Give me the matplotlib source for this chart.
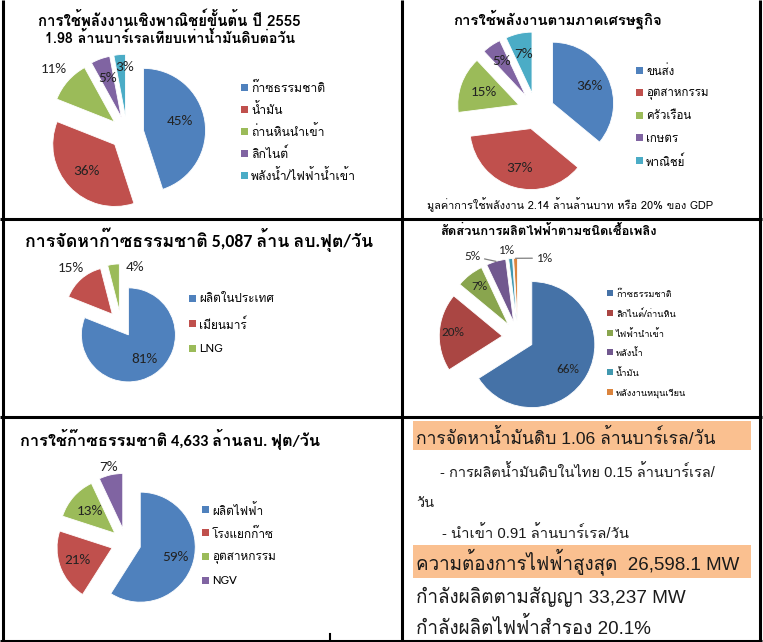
import numpy as np
import matplotlib
matplotlib.use('Agg')
import matplotlib.pyplot as plt
from matplotlib import font_manager as fm
from matplotlib.patches import Rectangle

# ---- data ----
p1_labels = ['ก๊าซธรรมชาติ', 'น้ำมัน', 'ถ่านหินนำเข้า', 'ลิกไนต์', 'พลังน้ำ/ไฟฟ้าน้ำเข้า']
p1_values = [45, 36, 11, 5, 3]

p2_labels = ['ขนส่ง', 'อุตสาหกรรม', 'ครัวเรือน', 'เกษตร', 'พาณิชย์']
p2_values = [36, 37, 15, 5, 7]

p3_labels = ['ผลิตในประเทศ', 'เมียนมาร์', 'LNG']
p3_values = [81, 15, 4]

p4_labels = ['ก๊าซธรรมชาติ', 'ลิกไนต์/ถ่านหิน', 'ไฟฟ้านำเข้า', 'พลังน้ำ', 'น้ำมัน', 'พลังงานหมุนเวียน']
p4_values = [66, 20, 7, 5, 1, 1]

p5_labels = ['ผลิตไฟฟ้า', 'โรงแยกก๊าซ', 'อุตสาหกรรม', 'NGV']
p5_values = [59, 21, 13, 7]

W, H = 763, 642

avail = set(f.name for f in fm.fontManager.ttflist)
def pick(*names):
    for n in names:
        if n in avail:
            return n
    return 'DejaVu Sans'

thai = pick('Loma', 'Noto Sans Thai', 'Sarabun', 'FreeSerif')
lat = pick('Carlito', 'Liberation Sans')
arial = pick('Liberation Sans', 'Arimo')
F_THAI = [thai, 'DejaVu Sans']
F_LAT = [lat, thai, 'DejaVu Sans']
F_ARIAL = [arial, thai, 'DejaVu Sans']

office = ['#4F81BD', '#C0504D', '#9BBB59', '#8064A2', '#4BACC6']
office_dark = ['#4572A7', '#AA4643', '#89A54E', '#71588F', '#4198AF', '#DB843D']

fig = plt.figure(figsize=(W / 100, H / 100), dpi=100)
ax = fig.add_axes([0, 0, 1, 1])


def Y(y):
    return H - y


def pie(values, colors, cx, cy, r, expl):
    # explode in matplotlib is in data units, so scale by the radius
    wedges, _ = ax.pie(values, colors=colors, center=(cx, Y(cy)), radius=r,
                       startangle=90, counterclock=False,
                       explode=[expl * r] * len(values),
                       wedgeprops=dict(edgecolor='white', linewidth=0.6))
    return wedges


def pct_labels(wedges, values, dists, nudges, fs, leaders=()):
    for i, (w, v, d, n) in enumerate(zip(wedges, values, dists, nudges)):
        mid = np.deg2rad((w.theta1 + w.theta2) / 2)
        a = mid + np.deg2rad(n)
        cx, cy = w.center
        x = cx + d * w.r * np.cos(a)
        y = cy + d * w.r * np.sin(a)
        if i in leaders:
            px = cx + w.r * np.cos(mid)
            py = cy + w.r * np.sin(mid)
            ax.annotate(f'{v}%', xy=(px, py), xytext=(x, y), ha='center', va='center',
                        fontsize=fs, family=F_LAT, color='#222222',
                        arrowprops=dict(arrowstyle='-', color='#7f7f7f', lw=0.9,
                                        shrinkA=1, shrinkB=0))
        else:
            ax.text(x, y, f'{v}%', ha='center', va='center', fontsize=fs,
                    family=F_LAT, color='#222222')


def legend(labels, colors, x, y0, step, sq, fs, gap=3):
    for i, (lab, c) in enumerate(zip(labels, colors)):
        y = Y(y0 + i * step)
        ax.add_patch(Rectangle((x, y - sq / 2), sq, sq, facecolor=c, edgecolor='none'))
        ax.text(x + sq + gap, y, lab, ha='left', va='center_baseline',
                fontsize=fs, family=F_THAI, color='black')


# ---- panel 1 ----
ax.text(169, Y(20), 'การใช้พลังงานเชิงพาณิชย์ขั้นต้น ปี 2555', ha='center', va='center',
        fontsize=10.8, fontweight='bold', family=F_THAI)
ax.text(170, Y(38), '1.98 ล้านบาร์เรลเทียบเท่าน้ำมันดิบต่อวัน', ha='center', va='center',
        fontsize=10.3, fontweight='bold', family=F_THAI)
w1 = pie(p1_values, office, 127, 133, 62, 0.27)
pct_labels(w1, p1_values, [0.6, 0.63, 1.3, 0.67, 0.8], [5, 0, 0, 0, -5], 11)
legend(p1_labels, office, 241, 87, 22, 7, 8.8)

# ---- panel 2 ----
ax.text(558, Y(19), 'การใช้พลังงานตามภาคเศรษฐกิจ', ha='center', va='center',
        fontsize=10.7, fontweight='bold', family=F_THAI)
w2 = pie(p2_values, office, 536, 111, 61, 0.30)
pct_labels(w2, p2_values, [0.67, 0.68, 0.61, 0.69, 0.66], [0] * 5, 11)
legend(p2_labels, office, 636, 70, 22.5, 7, 8.3)
ax.text(427, Y(205), 'มูลค่าการใช้พลังงาน 2.14 ล้านล้านบาท หรือ 20% ของ GDP', ha='left',
        va='center', fontsize=7.9, family=F_THAI)

# ---- panel 3 ----
ax.text(25, Y(240), 'การจัดหาก๊าซธรรมชาติ 5,087 ล้าน ลบ.ฟุต/วัน', ha='left', va='center',
        fontsize=12.8, fontweight='bold', family=F_LAT)
w3 = pie(p3_values, office, 121, 324, 47, 0.28)
pct_labels(w3, p3_values, [0.62, 1.32, 1.0], [0, 0, -27], 11)
legend(p3_labels, office, 189, 298, 25, 7, 8.5)

# ---- panel 4 ----
ax.text(440, Y(231), 'สัดส่วนการผลิตไฟฟ้าตามชนิดเชื้อเพลิง', ha='left', va='center',
        fontsize=9.4, fontweight='bold', family=F_THAI)
w4 = pie(p4_values, office_dark, 518, 337, 63, 0.25)
pct_labels(w4, p4_values, [0.70, 0.79, 0.76, 1.23, 1.14, 1.09], [-6, 0, 0, 16, 2, -25], 9.5,
           leaders=(3, 5))
legend(p4_labels, office_dark, 607, 293, 19.8, 6, 6.6)

# ---- panel 5 ----
ax.text(20, Y(440), 'การใช้ก๊าซธรรมชาติ 4,633 ล้านลบ. ฟุต/วัน', ha='left', va='center',
        fontsize=11.8, fontweight='bold', family=F_LAT)
w5 = pie(p5_values, office, 126, 543, 55, 0.27)
pct_labels(w5, p5_values, [0.66, 0.66, 0.61, 1.15], [0, 0, 0, 0], 11)
legend(p5_labels, office, 202, 509, 23.7, 7, 8.5)

# ---- panel 6: text block ----
band = '#FAC090'
ax.add_patch(Rectangle((413, Y(450)), 338, 29, facecolor=band, edgecolor='none'))
ax.add_patch(Rectangle((413, Y(578)), 338, 33, facecolor=band, edgecolor='none'))
txt = '#1a1a1a'
ax.text(416, Y(437), 'การจัดหาน้ำมันดิบ 1.06 ล้านบาร์เรล/วัน', ha='left', va='center',
        fontsize=12.6, family=F_ARIAL, color=txt)
ax.text(440, Y(472), '- การผลิตน้ำมันดิบในไทย 0.15 ล้านบาร์เรล/', ha='left', va='center',
        fontsize=10.5, family=F_ARIAL, color=txt)
ax.text(416, Y(503), 'วัน', ha='left', va='center', fontsize=10.5, family=F_ARIAL, color=txt)
ax.text(442, Y(533), '- นำเข้า 0.91 ล้านบาร์เรล/วัน', ha='left', va='center',
        fontsize=10.7, family=F_ARIAL, color=txt)
ax.text(416, Y(562), 'ความต้องการไฟฟ้าสูงสุด  26,598.1 MW', ha='left', va='center',
        fontsize=13.5, family=F_ARIAL, color=txt)
ax.text(416, Y(597), 'กำลังผลิตตามสัญญา 33,237 MW', ha='left', va='center',
        fontsize=13.6, family=F_ARIAL, color=txt)
ax.text(416, Y(627), 'กำลังผลิตไฟฟ้าสำรอง 20.1%', ha='left', va='center',
        fontsize=13.5, family=F_ARIAL, color=txt)

# ---- table grid ----
lk = dict(color='black', lw=2.2, solid_capstyle='butt')
ax.plot([3, 3], [Y(0), Y(642)], **lk)
ax.plot([402, 402], [Y(0), Y(642)], **lk)
ax.plot([760, 760], [Y(0), Y(642)], **lk)
for yy in (219, 417, 640.5):
    ax.plot([0, 762], [Y(yy), Y(yy)], **lk)
ax.plot([330, 330], [Y(634), Y(640)], color='black', lw=1.5)

ax.set_xlim(0, W)
ax.set_ylim(0, H)
ax.set_aspect('auto')
ax.axis('off')

fig.savefig('out.png', dpi=100)
